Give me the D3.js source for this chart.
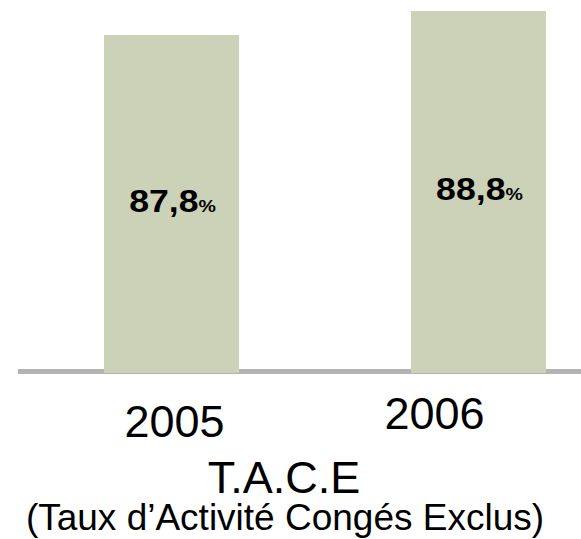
<!DOCTYPE html>
<html>
<head>
<meta charset="utf-8">
<script src="https://cdn.jsdelivr.net/npm/d3@7"></script>
<style>
  html, body { margin: 0; padding: 0; background: #ffffff; }
  svg { display: block; }
  text { font-family: "Liberation Sans", Arial, Helvetica, sans-serif; fill: #000; }
</style>
</head>
<body>
<svg id="chart" width="581" height="539"></svg>
<script>
// ---- data ----
const years = ["2005", "2006"];
const values = [87.8, 88.8];
const valueLabels = ["87,8", "88,8"];
const unitLabel = "%";
const title = "T.A.C.E";
const subtitle = "(Taux d\u2019Activit\u00e9 Cong\u00e9s Exclus)";

// ---- layout ----
const W = 581, H = 539;
const baseY = 372;
const svg = d3.select("#chart");

const x = d3.scaleBand().domain(years).range([104, 546]).paddingInner(0.56).paddingOuter(0);
const y = d3.scaleLinear().domain([73.76, 89.26]).range([baseY, 0]);

// axis line
svg.append("line")
  .attr("x1", 18).attr("x2", W)
  .attr("y1", 371.5).attr("y2", 371.5)
  .attr("stroke", "#b3b3b3").attr("stroke-width", 5);

const data = years.map((d, i) => ({ year: d, value: values[i], label: valueLabels[i] }));

// bars
svg.selectAll("rect.bar").data(data).join("rect")
  .attr("class", "bar")
  .attr("x", d => x(d.year))
  .attr("width", x.bandwidth())
  .attr("y", d => y(d.value))
  .attr("height", d => baseY + 1 - y(d.value))
  .attr("fill", "#ccd2b7");

// value labels
const lbl = svg.selectAll("g.vl").data(data).join("g")
  .attr("class", "vl")
  .attr("transform", d => `translate(${x(d.year) + x.bandwidth() / 2 + 1},${(y(d.value) + baseY) / 2 + 8.5}) scale(1.15,1)`);
const t = lbl.append("text").attr("text-anchor", "middle").attr("font-weight", "bold");
t.append("tspan").attr("font-size", 31).text(d => d.label);
t.append("tspan").attr("font-size", 17).text(unitLabel);

// year labels
const yearDx = [3, -44];
const yearBase = [437, 429];
svg.selectAll("text.year").data(data).join("text")
  .attr("class", "year")
  .attr("text-anchor", "middle")
  .attr("font-size", 45)
  .attr("x", (d, i) => x(d.year) + x.bandwidth() / 2 + yearDx[i])
  .attr("y", (d, i) => yearBase[i])
  .text(d => d.year);

// title
svg.append("text")
  .attr("text-anchor", "middle").attr("font-size", 45)
  .attr("x", 284).attr("y", 493)
  .text(title);

svg.append("text")
  .attr("text-anchor", "middle").attr("font-size", 37)
  .attr("x", 285).attr("y", 530)
  .text(subtitle);
</script>
</body>
</html>
